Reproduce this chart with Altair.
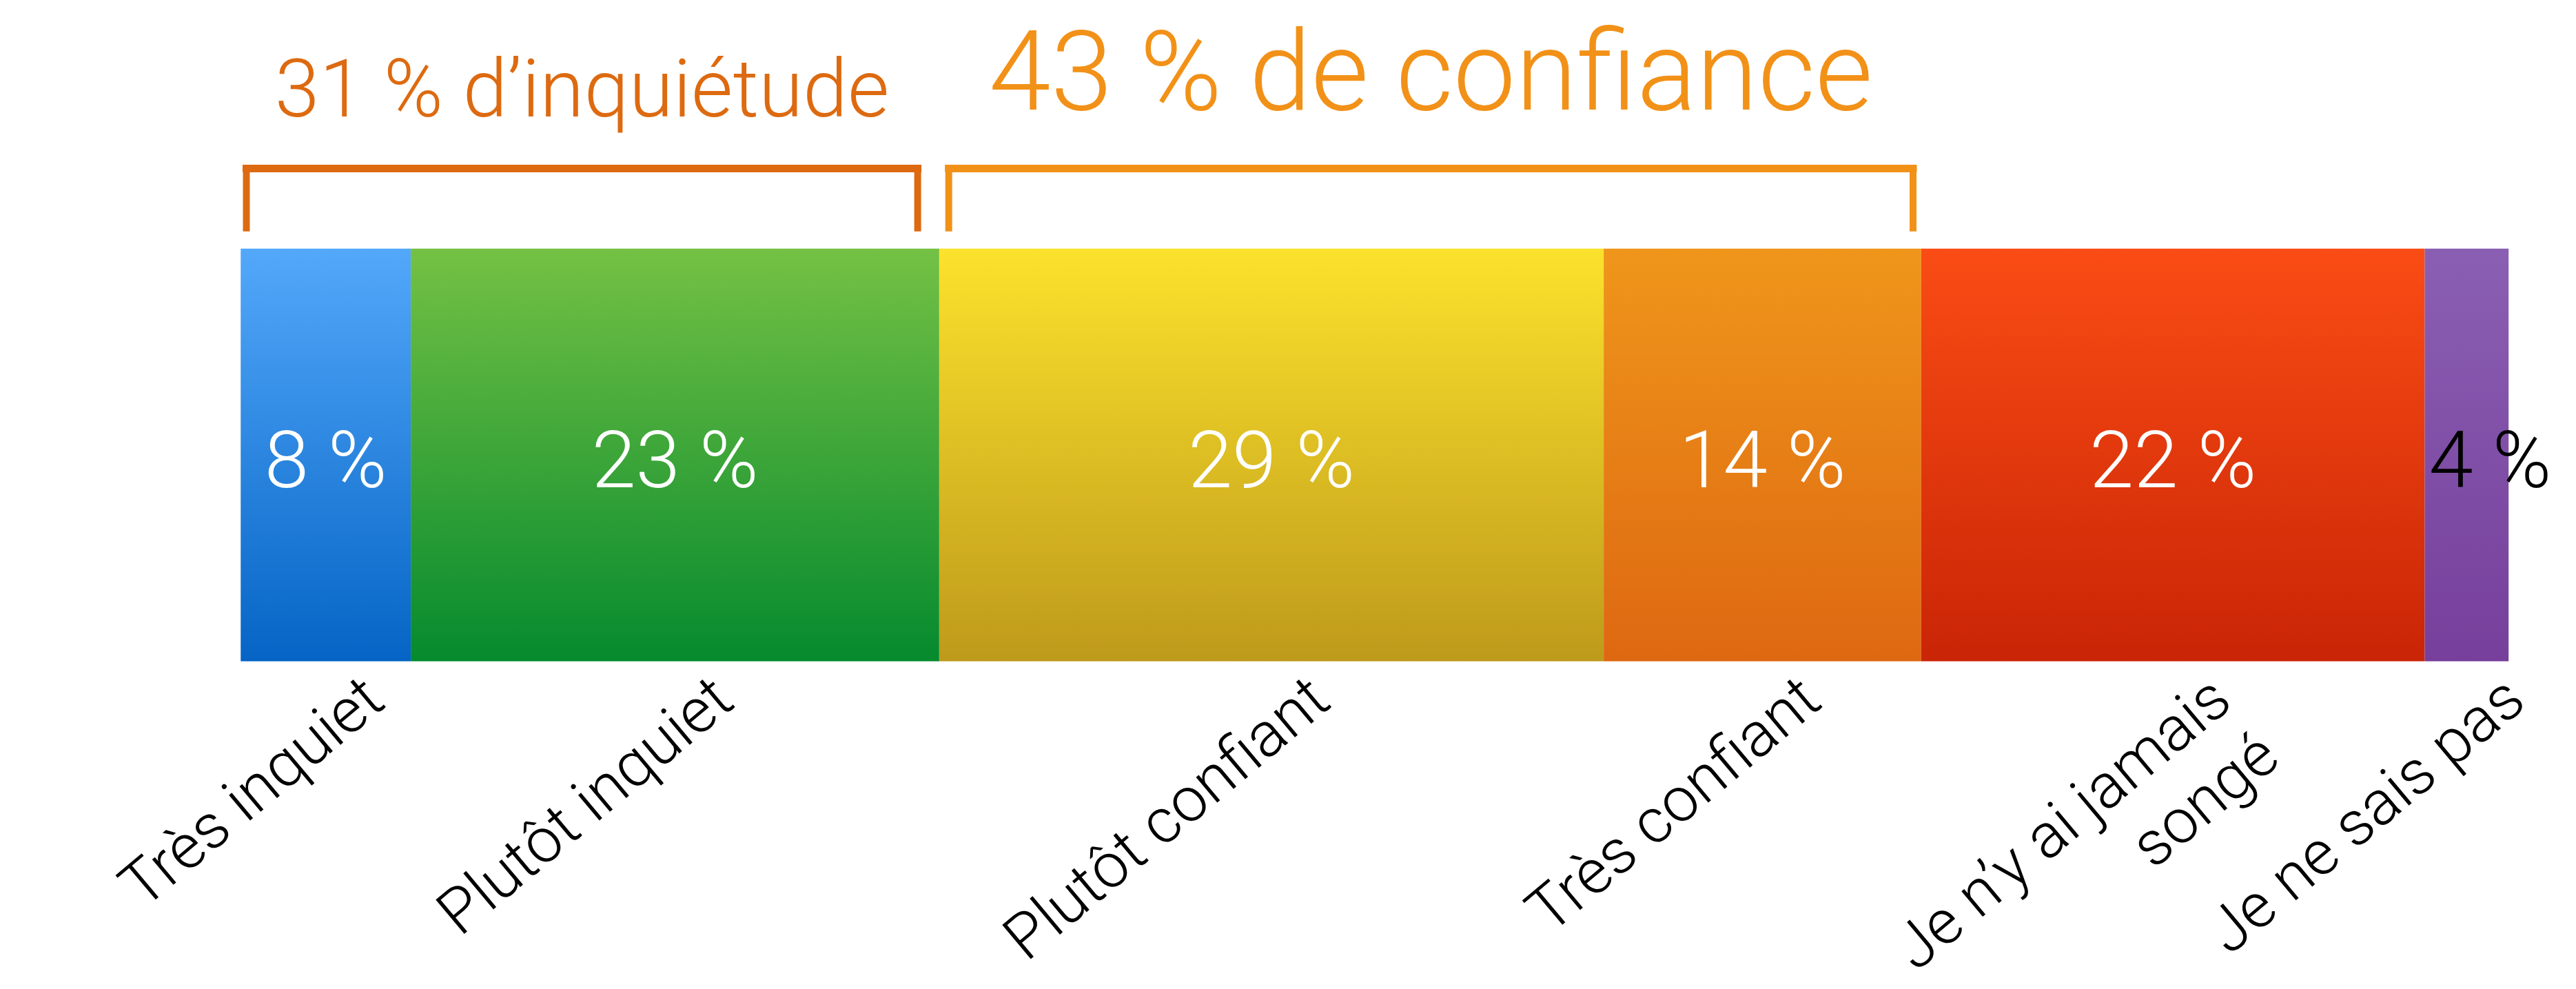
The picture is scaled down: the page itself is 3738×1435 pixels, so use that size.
import altair as alt
import pandas as pd

# ---- data ----
categories = ["Très inquiet", "Plutôt inquiet", "Plutôt confiant", "Très confiant",
              "Je n’y ai jamais\nsongé", "Je ne sais pas"]
shares = [7.5, 23.3, 29.3, 14.0, 22.2, 3.7]
bar_labels = ["8 %", "23 %", "29 %", "14 %", "22 %", "4 %"]
groups = ["inquiétude", "inquiétude", "confiance", "confiance", "autre", "autre"]
group_names = ["inquiétude", "confiance"]
group_prefix = ["d’", "de "]

# ---- styles ----
top_colors = ["#53A8FA", "#74C144", "#FCE22C", "#EF961B", "#FA4C14", "#8A5FB3"]
bottom_colors = ["#0564C5", "#058A2E", "#BE9A1B", "#DE6811", "#C92506", "#763F9B"]
group_colors = ["#DD6A10", "#F29118"]
bracket_insets = [(0.25, 0.95), (0.42, 0.36)]  # gap between bracket ends and bar edges (x units)
FONT = "Roboto"
W = 3298
H = 600

starts, acc = [], 0.0
for v in shares:
    starts.append(acc)
    acc += v
df = pd.DataFrame({
    "idx": list(range(len(categories))),
    "category": categories,
    "share": shares,
    "label": bar_labels,
    "group": groups,
    "start": starts,
    "end": [s + v for s, v in zip(starts, shares)],
    "row": "r",
})
df["mid"] = (df["start"] + df["end"]) / 2

g_rows = []
for name, pre, (ins_a, ins_b) in zip(group_names, group_prefix, bracket_insets):
    sub = df[df["group"] == name]
    total = sub["share"].sum()
    g_rows.append({
        "group": name,
        "bstart": sub["start"].min() + ins_a,
        "bend": sub["end"].max() - ins_b,
        "title": f"{round(total)} % {pre}{name}",
    })
gdf = pd.DataFrame(g_rows)
gdf["bmid"] = (gdf["bstart"] + gdf["bend"]) / 2

xs = alt.Scale(domain=[0, 100], nice=False, zero=False)
ys = alt.Scale(paddingInner=0, paddingOuter=0)
gcol = alt.Color("group:N", scale=alt.Scale(domain=group_names, range=group_colors), legend=None)

layers = []
for i in range(len(categories)):
    grad = {
        "gradient": "linear", "x1": 0, "y1": 0, "x2": 0, "y2": 1,
        "stops": [{"offset": 0, "color": top_colors[i]}, {"offset": 1, "color": bottom_colors[i]}],
    }
    layers.append(
        alt.Chart(df).transform_filter(alt.datum.idx == i)
        .mark_bar(fill=grad, stroke=None)
        .encode(x=alt.X("start:Q", scale=xs, axis=None), x2="end:Q",
                y=alt.Y("row:N", scale=ys, axis=None))
    )

inbar = alt.Chart(df).transform_filter(alt.datum.idx < len(categories) - 1).mark_text(
    font=FONT, fontWeight=300, fontSize=116, color="white", baseline="middle", dy=12
).encode(x=alt.X("mid:Q", scale=xs), y=alt.Y("row:N", scale=ys), text="label:N")

lastlab = alt.Chart(df).transform_filter(alt.datum.idx == len(categories) - 1).mark_text(
    font=FONT, fontWeight=300, fontSize=116, color="black", baseline="middle", align="left", dx=6, dy=12
).encode(x=alt.X("start:Q", scale=xs), y=alt.Y("row:N", scale=ys), text="label:N")

catlab = alt.Chart(df).mark_text(
    font=FONT, fontWeight=300, fontSize=91, color="black", angle=320, align="right",
    baseline="top", lineBreak="\n", lineHeight=108, dx=34, dy=27
).encode(x=alt.X("mid:Q", scale=xs), y=alt.value(610), text="category:N")

hbar = alt.Chart(gdf).mark_rule(strokeWidth=11, strokeCap="square").encode(
    x=alt.X("bstart:Q", scale=xs), x2="bend:Q", y=alt.value(-116.5), color=gcol)

legs = alt.Chart(gdf).transform_fold(["bstart", "bend"], as_=["side", "xpos"]).mark_rule(
    strokeWidth=10).encode(x=alt.X("xpos:Q", scale=xs), y=alt.value(-122), y2=alt.value(-25), color=gcol)

titles = []
for name, fs, yb in zip(group_names, [117, 162], [-192, -202]):
    titles.append(
        alt.Chart(gdf).transform_filter(alt.datum.group == name).mark_text(
            font=FONT, fontWeight=300, fontSize=fs, baseline="alphabetic", align="center"
        ).encode(x=alt.X("bmid:Q", scale=xs), y=alt.value(yb), text="title:N", color=gcol)
    )

chart = alt.layer(*layers, inbar, lastlab, catlab, hbar, legs, *titles).properties(
    width=W, height=H,
    autosize=alt.AutoSizeParams(type="none"),
    padding={"left": 342, "top": 352, "right": 90, "bottom": 475},
    background="white",
).configure_view(stroke=None)

chart.save("out.html", embed_options={"renderer": "svg", "actions": False})
